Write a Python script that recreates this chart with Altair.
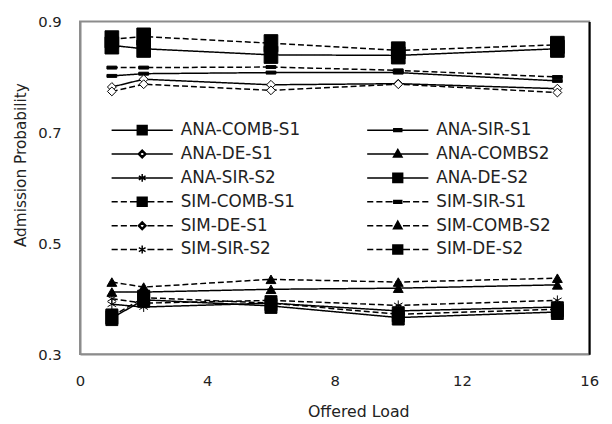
import altair as alt
import pandas as pd

offered_load = [1, 2, 6, 10, 15]

series_names = [
    "ANA-COMB-S1", "ANA-SIR-S1", "ANA-DE-S1", "ANA-COMBS2", "ANA-SIR-S2", "ANA-DE-S2",
    "SIM-COMB-S1", "SIM-SIR-S1", "SIM-DE-S1", "SIM-COMB-S2", "SIM-SIR-S2", "SIM-DE-S2",
]

ana_comb_s1 = [0.857, 0.851, 0.840, 0.839, 0.851]
ana_sir_s1 = [0.802, 0.806, 0.808, 0.808, 0.793]
ana_de_s1 = [0.782, 0.796, 0.786, 0.788, 0.779]
ana_comb_s2 = [0.412, 0.412, 0.417, 0.419, 0.425]
ana_sir_s2 = [0.390, 0.385, 0.392, 0.378, 0.385]
ana_de_s2 = [0.365, 0.398, 0.387, 0.366, 0.376]
sim_comb_s1 = [0.868, 0.873, 0.861, 0.848, 0.858]
sim_sir_s1 = [0.817, 0.817, 0.818, 0.812, 0.800]
sim_de_s1 = [0.774, 0.787, 0.776, 0.787, 0.772]
sim_comb_s2 = [0.430, 0.421, 0.435, 0.430, 0.437]
sim_sir_s2 = [0.400, 0.392, 0.397, 0.388, 0.397]
sim_de_s2 = [0.368, 0.402, 0.392, 0.372, 0.381]

series_values = [
    ana_comb_s1, ana_sir_s1, ana_de_s1, ana_comb_s2, ana_sir_s2, ana_de_s2,
    sim_comb_s1, sim_sir_s1, sim_de_s1, sim_comb_s2, sim_sir_s2, sim_de_s2,
]

x_ticks = [0, 4, 8, 12, 16]
y_ticks = [0.3, 0.5, 0.7, 0.9]

rows = []
for name, vals in zip(series_names, series_values):
    for x, v in zip(offered_load, vals):
        rows.append({"load": x, "prob": v, "series": name, "kind": name[:3]})
df = pd.DataFrame(rows)

# plot marker shapes (per marker family)
RECT = "M-0.8,-1H0.8V1H-0.8Z"
DASH = "M-1,-0.3H1V0.3H-1Z"
AST = "M0,-1L0,1M-0.87,-0.5L0.87,0.5M-0.87,0.5L0.87,-0.5"
fam_shapes = [RECT, DASH, "diamond", "triangle-up", AST, RECT]
fam_sizes = [300, 100, 80, 100, 100, 230]
fam_fills = ["black", "black", "white", "black", "transparent", "black"]

# legend symbols: line segment + marker in one path
SOLID = "M-1,0L1,0"
SOLID_GAP = "M-1,0L-0.13,0M0.13,0L1,0"
DASHED = "M-1,0L-0.8,0M-0.7,0L-0.5,0M-0.4,0L-0.17,0M0.17,0L0.4,0M0.5,0L0.7,0M0.8,0L1,0"
m_sq = "M-0.16,-0.15H0.16V0.15H-0.16Z"
m_dash = "M-0.13,-0.045H0.13V0.045H-0.13Z"
m_dia = "M0,-0.13L0.13,0L0,0.13L-0.13,0ZM0,-0.085L-0.085,0L0,0.085L0.085,0Z"
m_tri = "M0,-0.15L0.14,0.1L-0.14,0.1Z"
m_ast = "M0,-0.13L0,0.13M-0.11,-0.065L0.11,0.065M-0.11,0.065L0.11,-0.065"
fam_markers = [m_sq, m_dash, m_dia, m_tri, m_ast, m_sq]
legend_paths = [SOLID + m for m in fam_markers]
legend_paths[2] = SOLID_GAP + m_dia
legend_paths += [DASHED + m for m in fam_markers]

FONT = "DejaVu Sans"
TXT = "#222222"
GREY = "#8c8c8c"

x_scale = alt.Scale(domain=[0, 16], nice=False)
y_scale = alt.Scale(domain=[0.3, 0.9], nice=False, zero=False)

x_axis = alt.Axis(values=x_ticks, grid=False, ticks=False, tickSize=0, labelPadding=20,
                  labelFont=FONT, labelFontSize=15, labelColor=TXT, domainColor=GREY,
                  domainWidth=2, title="Offered Load", titleFont=FONT, titleFontSize=16,
                  titleFontWeight="normal", titleColor=TXT, titleX=282, titleY=63,
                  titleBaseline="alphabetic", labelFlush=False)
y_axis = alt.Axis(values=y_ticks, format=".1f", grid=False, ticks=False, tickSize=0,
                  labelPadding=19, labelFont=FONT, labelFontSize=15, labelColor=TXT,
                  domainColor=GREY, domainWidth=2, title="Admission Probability",
                  titleFont=FONT, titleFontSize=15.5, titleFontWeight="normal",
                  titleColor=TXT, titleX=-60, titleY=145, titleAlign="center",
                  titleBaseline="middle", titleAngle=270)

base = alt.Chart(df)

lines = base.mark_line(color="black", strokeWidth=1.5).encode(
    x=alt.X("load:Q", scale=x_scale, axis=x_axis),
    y=alt.Y("prob:Q", scale=y_scale, axis=y_axis),
    detail="series:N",
    strokeDash=alt.StrokeDash("kind:N", scale=alt.Scale(domain=["ANA", "SIM"], range=[[1, 0], [6, 3]]), legend=None),
)

point_layers = []
for i in range(6):
    members = [series_names[i], series_names[i + 6]]
    point_layers.append(
        base.transform_filter(alt.FieldOneOfPredicate(field="series", oneOf=members)).mark_point(
            shape=fam_shapes[i], size=fam_sizes[i], fill=fam_fills[i], stroke="black",
            strokeWidth=1, opacity=1, fillOpacity=1,
        ).encode(
            x=alt.X("load:Q", scale=x_scale),
            y=alt.Y("prob:Q", scale=y_scale, axis=None),
        )
    )

legend_layer = base.transform_filter("datum.load < 0").mark_point(
    fill="black", stroke="black", strokeWidth=1.5, opacity=1, fillOpacity=1, strokeOpacity=1
).encode(
    x=alt.X("load:Q", scale=x_scale),
    y=alt.Y("prob:Q", scale=y_scale, axis=alt.Axis(orient="right", labels=False, ticks=False,
                                                   grid=False, title=None, domainColor="black",
                                                   domainWidth=2)),
    shape=alt.Shape("series:N", scale=alt.Scale(domain=series_names, range=legend_paths),
                    legend=alt.Legend(orient="none", legendX=31, legendY=102, columns=2,
                                      direction="horizontal",
                                      columnPadding=66, rowPadding=7.2, clipHeight=16,
                                      symbolSize=3844, symbolStrokeWidth=1.5,
                                      labelFont=FONT, labelFontSize=17, labelColor=TXT,
                                      labelOffset=7, title=None, padding=0, labelLimit=300)),
)

chart = alt.layer(lines, *point_layers, legend_layer).resolve_axis(
    y="independent"
).properties(
    width=516, height=337,
    padding={"left": 6, "top": 4, "right": 5, "bottom": 0},
).configure_view(stroke=GREY, strokeWidth=2)

chart.save("out.html", embed_options={"renderer": "svg", "actions": False})
